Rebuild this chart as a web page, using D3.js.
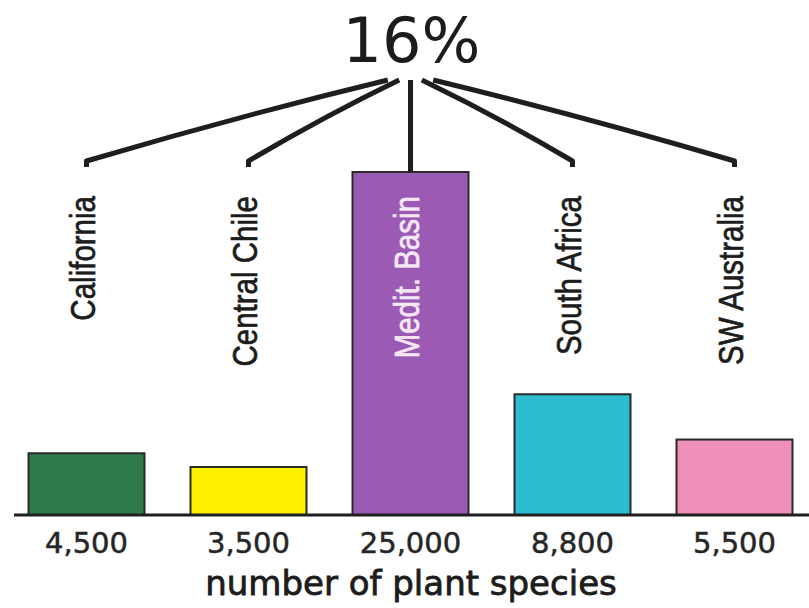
<!DOCTYPE html>
<html>
<head>
<meta charset="utf-8">
<script src="https://cdn.jsdelivr.net/npm/d3@7"></script>
<style>
  html, body { margin: 0; padding: 0; background: #fff; }
  svg { display: block; }
</style>
</head>
<body>
<svg id="chart" width="809" height="608"></svg>
<script>
// Mediterranean-climate regions and their plant species counts
const regions = ["California", "Central Chile", "Medit. Basin", "South Africa", "SW Australia"];
const species = [4500, 3500, 25000, 8800, 5500];
const barColors = ["#2e7a4b", "#fff200", "#9b5bb4", "#2dbdd1", "#ee90ba"];
const shareLabel = "16%";
const axisTitle = "number of plant species";

const W = 809, H = 608;
const baseY = 515;

const svg = d3.select("#chart");

const x = d3.scaleBand()
  .domain(regions)
  .range([5.5, 815.5])
  .paddingInner(0.284)
  .paddingOuter(0.142);

const y = d3.scaleLinear()
  .domain([0, 25000])
  .range([baseY, 172]);

const fmt = d3.format(",");
const data = regions.map((r, i) => ({ region: r, value: species[i], color: barColors[i] }));

// bars
svg.append("g").selectAll("rect")
  .data(data)
  .join("rect")
  .attr("x", d => x(d.region))
  .attr("y", d => y(d.value))
  .attr("width", x.bandwidth())
  .attr("height", d => baseY - y(d.value))
  .attr("fill", d => d.color)
  .attr("stroke", "#2a2a2a")
  .attr("stroke-width", 2);

// baseline
svg.append("line")
  .attr("x1", 14).attr("x2", W)
  .attr("y1", baseY).attr("y2", baseY)
  .attr("stroke", "#1f1f1f")
  .attr("stroke-width", 3);

// connector lines fanning out from the shared percentage
const hubX = x("Medit. Basin") + x.bandwidth() / 2;
const lineEndY = 161;
const conn = svg.append("g")
  .attr("fill", "none")
  .attr("stroke", "#1e1e1e")
  .attr("stroke-width", 5)
  .attr("stroke-linecap", "butt")
  .attr("stroke-linejoin", "round");

data.forEach(d => {
  const cx = x(d.region) + x.bandwidth() / 2;
  if (d.value === d3.max(species)) {
    conn.append("path").attr("d", `M${hubX},80 L${cx},${y(d.value)}`);
  } else {
    const sx = hubX + (cx - hubX) * 0.07;
    const sy = 80;
    const mx = (sx + cx) / 2, my = (sy + lineEndY) / 2 - 4;
    conn.append("path")
      .attr("d", `M${sx},${sy} Q${mx},${my} ${cx},${lineEndY} L${cx},${lineEndY + 6}`);
  }
});

// rotated region labels
svg.append("g").selectAll("text")
  .data(data)
  .join("text")
  .attr("transform", d => `translate(${x(d.region) + x.bandwidth() / 2 + 8},196) rotate(-90) scale(0.82,1)`)
  .attr("text-anchor", "end")
  .attr("font-family", "'Liberation Sans', Arial, sans-serif")
  .attr("font-size", 36)
  .attr("fill", d => d.value === d3.max(species) ? "#f5e8f5" : "#1c1c1c")
  .attr("stroke", d => d.value === d3.max(species) ? "#f5e8f5" : "#1c1c1c")
  .attr("stroke-width", 0.7)
  .text(d => d.region);

// value labels below the baseline
svg.append("g").selectAll("text")
  .data(data)
  .join("text")
  .attr("x", d => x(d.region) + x.bandwidth() / 2)
  .attr("y", 553)
  .attr("text-anchor", "middle")
  .attr("font-family", "'DejaVu Sans', sans-serif")
  .attr("font-size", 29)
  .attr("fill", "#262626")
  .attr("stroke", "#262626")
  .attr("stroke-width", 0.5)
  .text(d => fmt(d.value));

// axis title
svg.append("text")
  .attr("x", 411)
  .attr("y", 595)
  .attr("text-anchor", "middle")
  .attr("font-family", "'DejaVu Sans', sans-serif")
  .attr("font-size", 34)
  .attr("fill", "#1c1c1c")
  .attr("stroke", "#1c1c1c")
  .attr("stroke-width", 0.8)
  .text(axisTitle);

// shared percentage headline
svg.append("text")
  .attr("x", hubX + 1)
  .attr("y", 62)
  .attr("text-anchor", "middle")
  .attr("font-family", "'DejaVu Sans', sans-serif")
  .attr("font-size", 62)
  .attr("fill", "#1c1c1c")
  .text(shareLabel);
</script>
</body>
</html>
